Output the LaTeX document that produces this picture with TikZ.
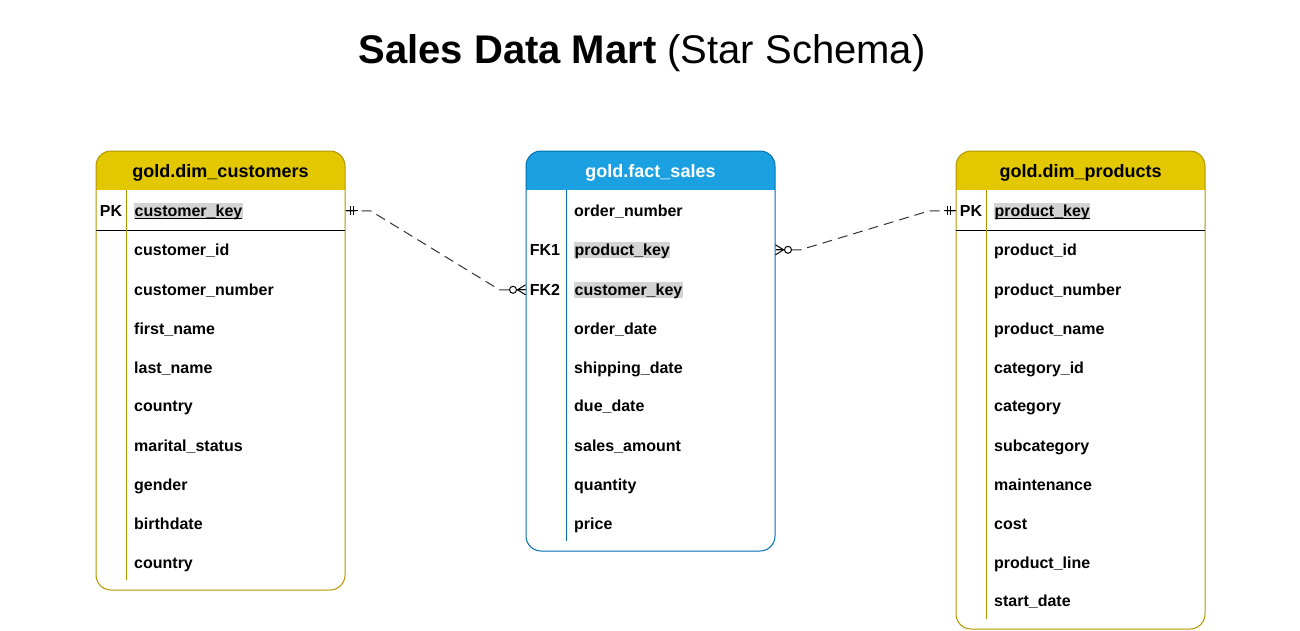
\documentclass[tikz,border=0pt]{standalone}
\usepackage{fontspec}
\setmainfont{Liberation Sans}
\definecolor{dimfill}{HTML}{E3C800}
\definecolor{dimline}{HTML}{B09500}
\definecolor{factfill}{HTML}{1BA1E2}
\definecolor{factline}{HTML}{006EAF}
\definecolor{keygray}{HTML}{D4D4D4}
\begin{document}
\begin{tikzpicture}[x=1pt, y=-1pt,
    tablebox/.style={draw, line width=1pt, rounded corners=15, inner sep=0, minimum width=249},
    tablehead/.style={inner sep=0, text height=13pt, text depth=0pt, font=\fontsize{18}{21}\selectfont\bfseries},
    field/.style={anchor=west, inner sep=0, yshift=-0.8pt, text height=11.5pt, text depth=0pt, font=\fontsize{16}{19}\selectfont\bfseries},
    keyfield/.style={field, fill=keygray, inner xsep=0.5pt, text height=13.75pt, text depth=2.25pt},
    keytag/.style={inner sep=0, yshift=-0.8pt, text height=11.5pt, text depth=0pt, font=\fontsize{16}{19}\selectfont\bfseries},
    relation/.style={draw=black!80, line width=1pt, dash pattern=on 10pt off 6pt},
    relmark/.style={draw=black, line width=1pt}]
    \useasboundingbox (0,0) rectangle (1300,630);

    \node (title) at (642,63) [anchor=base, font=\fontsize{40}{48}\selectfont] {\textbf{Sales Data Mart} (Star Schema)};

    % gold.dim_customers
    \begin{scope}
        \clip[rounded corners=15] (96,151) rectangle (345,590);
        \fill[dimfill] (96,151) rectangle (345,190);
    \end{scope}
    \node (cust) at (220.5,370.5) [tablebox, draw=dimline, minimum height=439] {};
    \node (custhead) at (220.5,171) [tablehead] {gold.dim\_customers};
    \draw[line width=1pt] (96,230) -- (345,230);
    \draw[dimline, line width=1pt] (126,190) -- (126,580);
    \node (custpk) at (111,210) [keytag] {PK};
    \node (ckey) at (134,210) [keyfield] {\underline{\smash{customer\_key}}};
    \node (cid) at (134,249) [field] {customer\_id};
    \node (cnum) at (134,289) [field] {customer\_number};
    \node (cfirst) at (134,328) [field] {first\_name};
    \node (clast) at (134,367) [field] {last\_name};
    \node (ccountry) at (134,405) [field] {country};
    \node (cmarital) at (134,445) [field] {marital\_status};
    \node (cgender) at (134,484) [field] {gender};
    \node (cbirth) at (134,523) [field] {birthdate};
    \node (ccountry2) at (134,562) [field] {country};

    % gold.fact_sales
    \begin{scope}
        \clip[rounded corners=15] (526,151) rectangle (775,551);
        \fill[factfill] (526,151) rectangle (775,190);
    \end{scope}
    \node (fact) at (650.5,351) [tablebox, draw=factline, minimum height=400] {};
    \node (facthead) at (650.5,171) [tablehead, text=white] {gold.fact\_sales};
    \draw[factline, line width=1pt] (566,190) -- (566,541);
    \node (fk1) at (545,249) [keytag] {FK1};
    \node (fk2) at (545,289) [keytag] {FK2};
    \node (forder) at (574,210) [field] {order\_number};
    \node (fpkey) at (574,249) [keyfield] {product\_key};
    \node (fckey) at (574,289) [keyfield] {customer\_key};
    \node (fodate) at (574,328) [field] {order\_date};
    \node (fsdate) at (574,367) [field] {shipping\_date};
    \node (fddate) at (574,405) [field] {due\_date};
    \node (famount) at (574,445) [field] {sales\_amount};
    \node (fqty) at (574,484) [field] {quantity};
    \node (fprice) at (574,523) [field] {price};

    % gold.dim_products
    \begin{scope}
        \clip[rounded corners=15] (956,151) rectangle (1205,629);
        \fill[dimfill] (956,151) rectangle (1205,190);
    \end{scope}
    \node (prod) at (1080.5,390) [tablebox, draw=dimline, minimum height=478] {};
    \node (prodhead) at (1080.5,171) [tablehead] {gold.dim\_products};
    \draw[line width=1pt] (956,230) -- (1205,230);
    \draw[dimline, line width=1pt] (986,190) -- (986,619);
    \node (prodpk) at (971,210) [keytag] {PK};
    \node (pkey) at (994,210) [keyfield] {\underline{\smash{product\_key}}};
    \node (pid) at (994,249) [field] {product\_id};
    \node (pnum) at (994,289) [field] {product\_number};
    \node (pname) at (994,328) [field] {product\_name};
    \node (pcatid) at (994,367) [field] {category\_id};
    \node (pcat) at (994,405) [field] {category};
    \node (psubcat) at (994,445) [field] {subcategory};
    \node (pmaint) at (994,484) [field] {maintenance};
    \node (pcost) at (994,523) [field] {cost};
    \node (pline) at (994,562) [field] {product\_line};
    \node (pstart) at (994,600) [field] {start\_date};

    % relations
    \coordinate (c1) at (cust.east |- custpk);
    \coordinate (c2) at (fact.west |- fk2);
    \coordinate (p1) at (fact.east |- fk1);
    \coordinate (p2) at (prod.west |- prodpk);
    \draw[relation] (c1) -- ++(25,0) -- ([xshift=-26pt]c2) -- (c2);
    \draw[relation] (p1) -- ++(25,0) -- ([xshift=-26pt]p2) -- (p2);

    % one (mandatory)
    \draw[relmark] (c1) -- ++(12,0);
    \draw[relmark] ([xshift=5pt,yshift=4.5pt]c1) -- ([xshift=5pt,yshift=-4.5pt]c1);
    \draw[relmark] ([xshift=8pt,yshift=4.5pt]c1) -- ([xshift=8pt,yshift=-4.5pt]c1);
    \draw[relmark] (p2) -- ++(-12,0);
    \draw[relmark] ([xshift=-5pt,yshift=4.5pt]p2) -- ([xshift=-5pt,yshift=-4.5pt]p2);
    \draw[relmark] ([xshift=-8pt,yshift=4.5pt]p2) -- ([xshift=-8pt,yshift=-4.5pt]p2);

    % many (optional)
    \draw[relmark] ([yshift=5pt]c2) -- ([xshift=-8pt]c2) -- ([yshift=-5pt]c2);
    \draw[relmark] ([xshift=-8pt]c2) -- (c2);
    \draw[relmark, fill=white] ([xshift=-12.5pt]c2) circle[radius=3.5];
    \draw[relmark] ([yshift=5pt]p1) -- ([xshift=8pt]p1) -- ([yshift=-5pt]p1);
    \draw[relmark] ([xshift=8pt]p1) -- (p1);
    \draw[relmark, fill=white] ([xshift=12.5pt]p1) circle[radius=3.5];
\end{tikzpicture}
\end{document}
